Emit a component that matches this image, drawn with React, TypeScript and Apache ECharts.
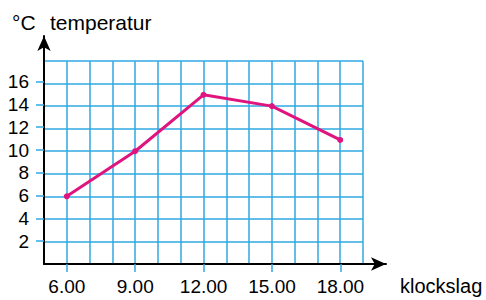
import React, { useEffect, useRef } from "react";
import * as echarts from "echarts";

const hours = [6, 9, 12, 15, 18];
const temps = [6, 10, 15, 14, 11];
const xTickValues = [6, 9, 12, 15, 18];
const yTickValues = [2, 4, 6, 8, 10, 12, 14, 16];

const FONT = "'Liberation Sans', Arial, sans-serif";
const GRID_BLUE = "#2fa9e2";
const TEXT = "#000";

export default function App() {
  const ref = useRef<HTMLDivElement>(null);
  useEffect(() => {
    if (!ref.current) return;
    const chart = echarts.init(ref.current, null, { renderer: "svg" });
    chart.setOption({
      animation: false,
      backgroundColor: "#ffffff",
      grid: [
        { left: 44, right: 100, top: 36, bottom: 36 },
        { left: 44, right: 123, top: 61, bottom: 36 },
      ],
      xAxis: [
        {
          gridIndex: 0,
          type: "value",
          min: 5,
          max: 20,
          interval: 1,
          axisLine: {
            show: true,
            symbol: ["none", "arrow"],
            symbolSize: [10, 15],
            lineStyle: { color: "#000", width: 2 },
          },
          axisTick: {
            show: true,
            customValues: xTickValues,
            length: 8,
            lineStyle: { color: GRID_BLUE, width: 1.5 },
          },
          axisLabel: {
            customValues: xTickValues,
            formatter: (v: number) => v.toFixed(2),
            color: TEXT,
            fontFamily: FONT,
            fontSize: 19,
            margin: 13,
          },
          splitLine: { show: false },
        },
        {
          gridIndex: 1,
          type: "value",
          min: 5,
          max: 19,
          interval: 1,
          axisLine: { show: false },
          axisTick: { show: false },
          axisLabel: { show: false },
          splitLine: { show: true, lineStyle: { color: GRID_BLUE, width: 1.5 } },
        },
      ],
      yAxis: [
        {
          gridIndex: 0,
          type: "value",
          min: 0,
          max: 20,
          interval: 2,
          axisLine: {
            show: true,
            symbol: ["none", "arrow"],
            symbolSize: [10, 15],
            lineStyle: { color: "#000", width: 2 },
          },
          axisTick: {
            show: true,
            customValues: yTickValues,
            length: 8,
            lineStyle: { color: GRID_BLUE, width: 1.5 },
          },
          axisLabel: {
            customValues: yTickValues,
            color: TEXT,
            fontFamily: FONT,
            fontSize: 19,
            margin: 15,
          },
          splitLine: { show: false },
        },
        {
          gridIndex: 1,
          type: "value",
          min: 0,
          max: 18,
          interval: 2,
          axisLine: { show: false },
          axisTick: { show: false },
          axisLabel: { show: false },
          splitLine: { show: true, lineStyle: { color: GRID_BLUE, width: 1.5 } },
        },
      ],
      series: [
        {
          type: "line",
          xAxisIndex: 1,
          yAxisIndex: 1,
          data: hours.map((h, i) => [h, temps[i]]),
          lineStyle: { color: "#e0147e", width: 3 },
          itemStyle: { color: "#e0147e" },
          symbol: "circle",
          symbolSize: 6,
          z: 5,
        },
      ],
      graphic: [
        {
          type: "text",
          left: 12,
          top: 12,
          style: { text: "°C", font: `21px ${FONT}`, fill: TEXT },
        },
        {
          type: "text",
          left: 50,
          top: 12,
          style: { text: "temperatur", font: `21px ${FONT}`, fill: TEXT },
        },
        {
          type: "text",
          left: 400,
          top: 276,
          style: { text: "klockslag", font: `20px ${FONT}`, fill: TEXT },
        },
      ],
    });
    return () => chart.dispose();
  }, []);
  return <div ref={ref} style={{ width: 486, height: 300, position: "absolute", left: 0, top: 0 }} />;
}
